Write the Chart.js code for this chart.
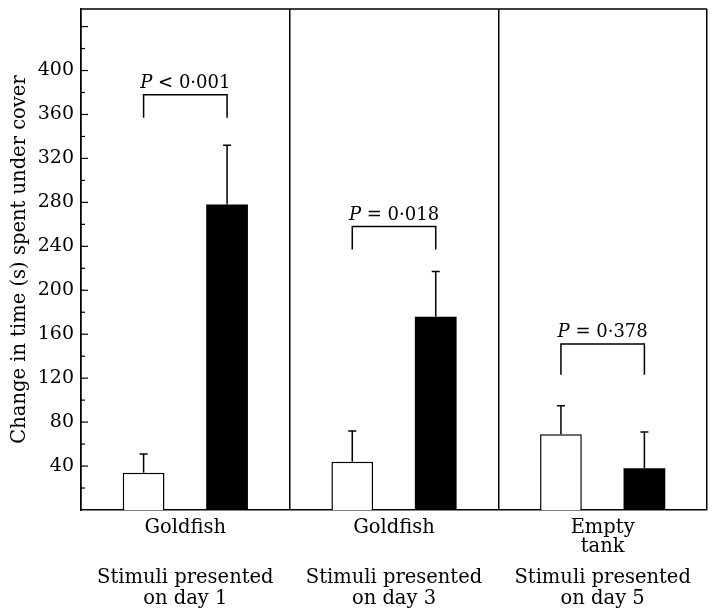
<!DOCTYPE html>
<html>
<head>
<meta charset="utf-8">
<script src="https://cdn.jsdelivr.net/npm/chart.js@4"></script>
<style>
  body { margin: 0; background: #fff; }
  #wrap { width: 714px; height: 615px; }
</style>
</head>
<body>
<div id="wrap"><canvas id="myChart" width="714" height="615"></canvas></div>
<script>
// stimulus groups (bottom axis) and the day each was shown
const stimuli = ['Goldfish', 'Goldfish', ['Empty', 'tank']];
const days = [['Stimuli presented', 'on day 1'], ['Stimuli presented', 'on day 3'], ['Stimuli presented', 'on day 5']];

// change in time spent under cover (s)
const openBars = [34, 44, 69];
const openErr = [17, 28, 26];
const filledBars = [278, 176, 38];
const filledErr = [54, 41, 33];

// significance brackets: level of the bar (s) and the P text
const bracketLevel = [378, 258, 151];
const bracketDrop = [21, 21, 28];
const pText = ['< 0·001', '= 0·018', '= 0·378'];

const errs = [openErr, filledErr];
const serif = 'DejaVu Serif';

const framePlugin = {
  id: 'frame',
  afterDraw(chart) {
    const ctx = chart.ctx;
    const a = chart.chartArea;
    const y = chart.scales.y;
    ctx.save();
    ctx.strokeStyle = '#000';
    ctx.lineWidth = 1.5;
    ctx.beginPath();
    ctx.moveTo(a.left, a.top);
    ctx.lineTo(a.right, a.top);
    ctx.stroke();
    // inward ticks, long ones at every labelled value
    ctx.lineWidth = 1.2;
    for (let v = 20; v <= 440; v += 20) {
      const py = y.getPixelForValue(v);
      const len = v % 40 === 0 ? 7 : 4;
      ctx.beginPath();
      ctx.moveTo(a.left, py);
      ctx.lineTo(a.left + len, py);
      ctx.stroke();
    }
    ctx.restore();
  }
};

const errorPlugin = {
  id: 'errorBars',
  afterDatasetsDraw(chart) {
    const ctx = chart.ctx;
    const y = chart.scales.y;
    ctx.save();
    ctx.strokeStyle = '#000';
    ctx.lineWidth = 1.5;
    chart.data.datasets.forEach((ds, d) => {
      chart.getDatasetMeta(d).data.forEach((bar, i) => {
        const top = y.getPixelForValue(ds.data[i] + errs[d][i]);
        ctx.beginPath();
        ctx.moveTo(bar.x, bar.y);
        ctx.lineTo(bar.x, top);
        ctx.moveTo(bar.x - 4, top);
        ctx.lineTo(bar.x + 4, top);
        ctx.stroke();
      });
    });
    ctx.restore();
  }
};

const bracketPlugin = {
  id: 'brackets',
  afterDatasetsDraw(chart) {
    const ctx = chart.ctx;
    const y = chart.scales.y;
    const m0 = chart.getDatasetMeta(0).data;
    const m1 = chart.getDatasetMeta(1).data;
    ctx.save();
    ctx.strokeStyle = '#000';
    ctx.fillStyle = '#000';
    ctx.lineWidth = 1.5;
    bracketLevel.forEach((lvl, i) => {
      const x0 = m0[i].x, x1 = m1[i].x;
      const py = y.getPixelForValue(lvl);
      const pb = y.getPixelForValue(lvl - bracketDrop[i]);
      ctx.beginPath();
      ctx.moveTo(x0, pb);
      ctx.lineTo(x0, py);
      ctx.lineTo(x1, py);
      ctx.lineTo(x1, pb);
      ctx.stroke();

      ctx.textBaseline = 'alphabetic';
      ctx.font = 'italic 18px "' + serif + '"';
      const wP = ctx.measureText('P').width;
      ctx.font = '18px "' + serif + '"';
      const rest = ' ' + pText[i];
      const wR = ctx.measureText(rest).width;
      const sx = (x0 + x1) / 2 - (wP + wR) / 2;
      ctx.font = 'italic 18px "' + serif + '"';
      ctx.fillText('P', sx, py - 7);
      ctx.font = '18px "' + serif + '"';
      ctx.fillText(rest, sx + wP, py - 7);
    });
    ctx.restore();
  }
};

const ctx = document.getElementById('myChart').getContext('2d');

let chart = new Chart(ctx, {
  type: 'bar',
  data: {
    labels: stimuli,
    datasets: [
      {
        label: 'Open',
        data: openBars,
        backgroundColor: '#fff',
        borderColor: '#000',
        borderWidth: 1.5,
        categoryPercentage: 0.8,
        barPercentage: 0.5
      },
      {
        label: 'Filled',
        data: filledBars,
        backgroundColor: '#000',
        borderColor: '#000',
        borderWidth: 0,
        categoryPercentage: 0.8,
        barPercentage: 0.5
      }
    ]
  },
  options: {
    responsive: false,
    animation: false,
    devicePixelRatio: 1,
    layout: { padding: { top: 9, right: 7, bottom: 0, left: 0 } },
    plugins: {
      legend: { display: false },
      tooltip: { enabled: false }
    },
    scales: {
      x: {
        offset: true,
        grid: { offset: true, color: '#000', lineWidth: 1.5, drawTicks: false },
        border: { display: true, color: '#000', width: 1.5 },
        ticks: {
          color: '#000',
          padding: 8,
          maxRotation: 0,
          autoSkip: false,
          font: { family: serif, size: 19.5, lineHeight: 0.98 }
        },
        afterFit(scale) { scale.height = 52; }
      },
      x2: {
        type: 'category',
        position: 'bottom',
        weight: 1,
        labels: days,
        offset: true,
        grid: { display: false, drawTicks: false },
        border: { display: false },
        ticks: {
          color: '#000',
          padding: 5,
          maxRotation: 0,
          autoSkip: false,
          font: { family: serif, size: 19.5, lineHeight: 1.08 }
        },
        afterFit(scale) { scale.height = 53; }
      },
      y: {
        min: 0,
        max: 456,
        grid: { display: false, drawTicks: false },
        border: { display: true, color: '#000', width: 1.5 },
        ticks: {
          stepSize: 20,
          autoSkip: false,
          color: '#000',
          padding: 7,
          font: { family: serif, size: 19 },
          callback: v => (v % 40 === 0 && v > 0 && v <= 400) ? v : ''
        },
        title: {
          display: true,
          text: 'Change in time (s) spent under cover',
          color: '#000',
          font: { family: serif, size: 19.5 },
          padding: { top: 8, bottom: 0 }
        },
        afterFit(scale) {
          scale.width = 81;
          scale.paddingTop = 0;
          scale.paddingBottom = 0;
        }
      }
    }
  },
  plugins: [framePlugin, errorPlugin, bracketPlugin]
});
</script>
</body>
</html>
